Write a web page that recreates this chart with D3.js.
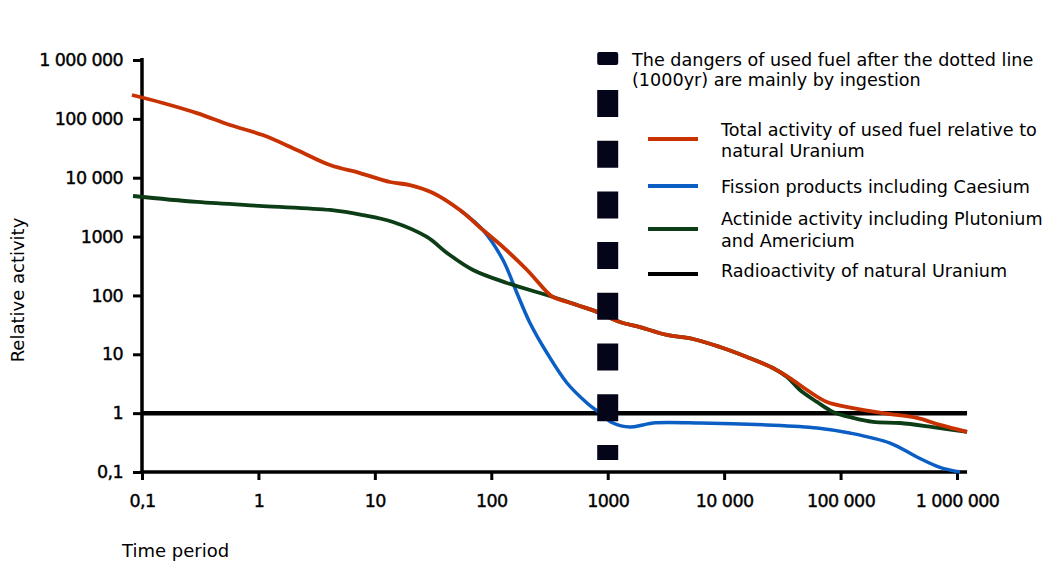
<!DOCTYPE html>
<html><head><meta charset="utf-8">
<script src="https://cdn.jsdelivr.net/npm/d3@7"></script>
<style>
html,body{margin:0;padding:0;background:#fff;}
svg{display:block;}
text{font-family:"DejaVu Sans",sans-serif;fill:#000;}
.tick text{font-family:"DejaVu Sans",sans-serif;font-size:17.5px;letter-spacing:-0.6px;stroke:#000;stroke-width:0.4px;}
</style></head>
<body>
<svg id="c" width="1062" height="574"></svg>
<script>
// ---- data ----
const xTicks = [0.1, 1, 10, 100, 1000, 10000, 100000, 1000000];
const xTickLabels = ["0,1", "1", "10", "100", "1000", "10 000", "100 000", "1 000 000"];
const yTicks = [0.1, 1, 10, 100, 1000, 10000, 100000, 1000000];
const yTickLabels = ["0,1", "1", "10", "100", "1000", "10 000", "100 000", "1 000 000"];

const totalT = [0.082, 0.151, 0.297, 0.57, 1.09, 2.14, 4.12, 7.45, 13.5, 20, 31.6, 53.8, 84.9, 126, 203, 301, 339, 545, 859, 1275, 1890, 3230, 5400, 9200, 15700, 26200, 36700, 51500, 76400, 128000, 231000, 453000, 714000, 1220000];
const totalV = [254000, 186000, 125000, 78500, 53000, 29600, 16400, 12000, 8450, 7500, 5500, 2820, 1290, 665, 270, 114, 94, 68.7, 50.2, 35.3, 29, 21.3, 18.2, 13.3, 9.0, 5.85, 3.95, 2.47, 1.55, 1.22, 1.0, 0.83, 0.63, 0.48];

const fissionT = [53.8, 84.9, 126, 166, 215, 301, 447, 663, 859, 1110, 1550, 2010, 2450, 6200, 23300, 62700, 120000, 266000, 453000, 714000, 1060000];
const fissionV = [2820, 1290, 400, 110, 34, 10.5, 3.25, 1.49, 1.0, 0.68, 0.58, 0.63, 0.68, 0.68, 0.63, 0.56, 0.46, 0.31, 0.18, 0.12, 0.1];

const actinideT = [0.0837, 0.297, 1.09, 4.12, 7.9, 14.3, 28, 41.7, 69.7, 136, 339, 545, 859, 1275, 1890, 3230, 5400, 9200, 15700, 26200, 34700, 44800, 62700, 86000, 128000, 190000, 324000, 622000, 1220000];
const actinideV = [4890, 3870, 3300, 2830, 2320, 1770, 985, 526, 270, 163, 94, 68.7, 50.2, 35.3, 29, 21.3, 18.2, 13.3, 9.0, 5.85, 4.11, 2.47, 1.55, 1.05, 0.83, 0.71, 0.68, 0.58, 0.48];

const uraniumT = [0.1, 1220000];
const uraniumV = [1, 1];

const markerT = 1000;
const legendNames = ["Total activity of used fuel relative to|natural Uranium", "Fission products including Caesium", "Actinide activity including Plutonium|and Americium", "Radioactivity of natural Uranium"];
const noteText = ["The dangers of used fuel after the dotted line", "(1000yr) are mainly by ingestion"];

// ---- drawing ----
const colors = {total:"#c83200", fission:"#0b5fc4", actinide:"#0c3d16", uranium:"#000"};
const svg = d3.select("#c");
const x = d3.scaleLog().domain([0.1, 1000000]).range([142, 957]);
const y = d3.scaleLog().domain([0.1, 1000000]).range([472, 60]);

const zip = (a, b) => a.map((t, i) => [t, b[i]]);
const line = d3.line().x(d => x(d[0])).y(d => y(d[1])).curve(d3.curveCatmullRom.alpha(0.5));

// axes
const yAxis = d3.axisLeft(y).tickValues(yTicks).tickFormat((d, i) => yTickLabels[i]).tickSize(9).tickPadding(10);
const gy = svg.append("g").attr("transform", `translate(${x(0.1)},0)`).call(yAxis);
const xAxis = d3.axisBottom(x).tickValues(xTicks).tickFormat((d, i) => xTickLabels[i]).tickSize(8).tickPadding(15);
const gx = svg.append("g").attr("transform", `translate(0,${y(0.1)})`).call(xAxis);
[gx, gy].forEach(g => {
  g.select(".domain").remove();
  g.selectAll(".tick line").attr("stroke", "#000").attr("stroke-width", 3);
  g.selectAll(".tick text").attr("fill", "#000");
});
svg.append("line").attr("x1", x(0.1)).attr("x2", x(0.1)).attr("y1", y(1000000) - 2).attr("y2", y(0.1) + 1.5)
  .attr("stroke", "#000").attr("stroke-width", 3.5);
svg.append("line").attr("x1", x(0.1) - 1.5).attr("x2", x(uraniumT[1])).attr("y1", y(0.1)).attr("y2", y(0.1))
  .attr("stroke", "#000").attr("stroke-width", 3.5);

// series
svg.append("path").datum(zip(uraniumT, uraniumV)).attr("d", line).attr("fill", "none").attr("stroke", colors.uranium).attr("stroke-width", 4.5);
svg.append("path").datum(zip(fissionT, fissionV)).attr("d", line).attr("fill", "none").attr("stroke", colors.fission).attr("stroke-width", 3.5);
svg.append("path").datum(zip(actinideT, actinideV)).attr("d", line).attr("fill", "none").attr("stroke", colors.actinide).attr("stroke-width", 3.8);
svg.append("path").datum(zip(totalT, totalV)).attr("d", line).attr("fill", "none").attr("stroke", colors.total).attr("stroke-width", 3.8);

// dotted marker line at 1000 yr
svg.append("line").attr("x1", x(markerT)).attr("x2", x(markerT)).attr("y1", 90).attr("y2", 460)
  .attr("stroke", "#05051a").attr("stroke-width", 21).attr("stroke-dasharray", "27 23.7");
svg.append("rect").attr("x", x(markerT) - 10.5).attr("y", 52).attr("width", 21).attr("height", 13).attr("rx", 2).attr("fill", "#05051a");

// note
noteText.forEach((t, i) => svg.append("text").attr("x", 632).attr("y", 66 + i * 20).attr("font-size", 17.6).text(t));

// legend
const legY = [139, 186, 229, 274];
const legColors = [colors.total, colors.fission, colors.actinide, colors.uranium];
const legTextY = [[136, 157], [193], [225, 247], [277]];
legendNames.forEach((n, i) => {
  svg.append("line").attr("x1", 648).attr("x2", 698).attr("y1", legY[i]).attr("y2", legY[i])
    .attr("stroke", legColors[i]).attr("stroke-width", 4);
  n.split("|").forEach((s, j) => svg.append("text").attr("x", 721).attr("y", legTextY[i][j]).attr("font-size", 17.6).text(s));
});

// axis titles
svg.append("text").attr("transform", "translate(24,290) rotate(-90)").attr("text-anchor", "middle").attr("font-size", 18).text("Relative activity");
svg.append("text").attr("x", 122).attr("y", 557).attr("font-size", 18).text("Time period");
</script>
</body></html>
